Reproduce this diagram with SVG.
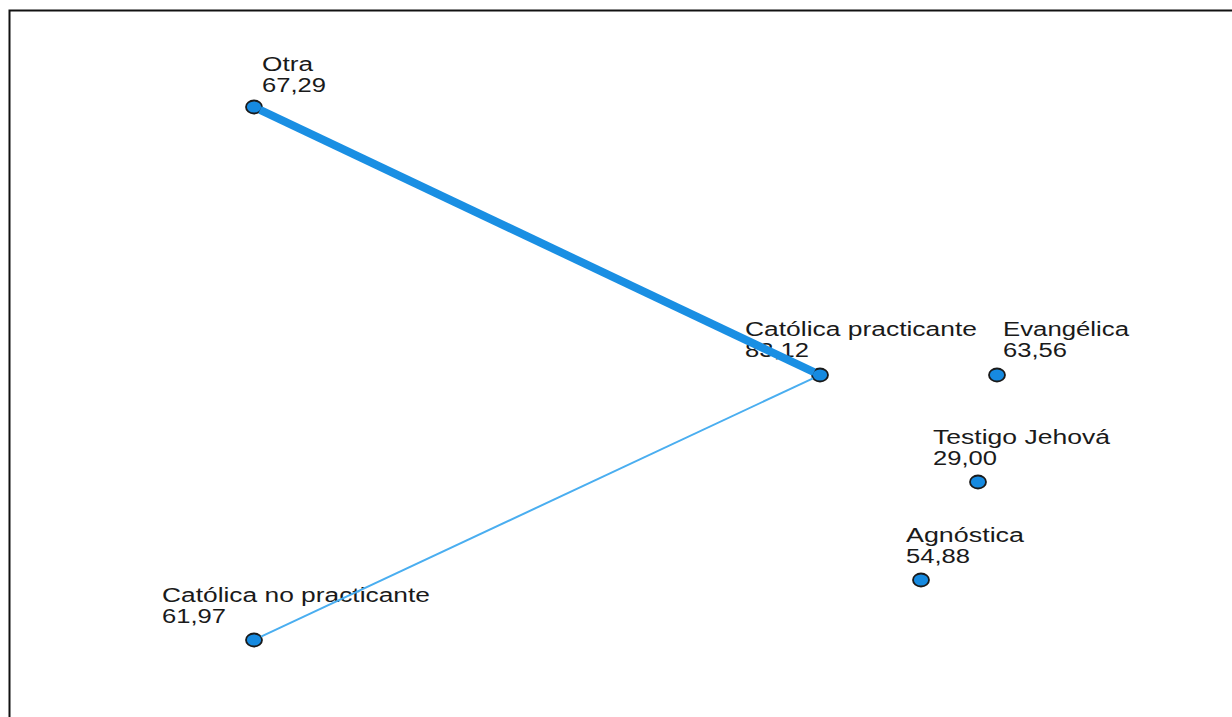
<svg xmlns="http://www.w3.org/2000/svg" width="1232" height="717" viewBox="0 0 1232 717">
<style>
.lbl{font-family:"Liberation Sans",Arial,sans-serif;font-size:19.5px;fill:#1a1a1a}
.dot{fill:#168ae0;stroke:#1a1a1a;stroke-width:1.8}
</style>
<rect width="1232" height="717" fill="#fff"/>
<path d="M9.5,717 V10.5 H1232" fill="none" stroke="#111" stroke-width="2"/>
<g id="n-otra">
<text class="lbl" x="262" y="71" textLength="51" lengthAdjust="spacingAndGlyphs">Otra</text>
<text class="lbl" x="262" y="92" textLength="64" lengthAdjust="spacingAndGlyphs">67,29</text>
<ellipse class="dot" cx="254" cy="107" rx="8" ry="6.5"/>
</g>
<g id="n-catolica-practicante">
<text class="lbl" x="745" y="336" textLength="232" lengthAdjust="spacingAndGlyphs">Católica practicante</text>
<text class="lbl" x="745" y="357" textLength="64" lengthAdjust="spacingAndGlyphs">83,12</text>
<ellipse class="dot" cx="820" cy="375" rx="8" ry="6.5"/>
</g>
<g id="n-evangelica">
<text class="lbl" x="1003" y="336" textLength="126" lengthAdjust="spacingAndGlyphs">Evangélica</text>
<text class="lbl" x="1003" y="357" textLength="64" lengthAdjust="spacingAndGlyphs">63,56</text>
<ellipse class="dot" cx="997" cy="375" rx="8" ry="6.5"/>
</g>
<g id="n-testigo">
<text class="lbl" x="933" y="444" textLength="177" lengthAdjust="spacingAndGlyphs">Testigo Jehová</text>
<text class="lbl" x="933" y="465" textLength="64" lengthAdjust="spacingAndGlyphs">29,00</text>
<ellipse class="dot" cx="978" cy="482" rx="8" ry="6.5"/>
</g>
<g id="n-agnostica">
<text class="lbl" x="906" y="542" textLength="118" lengthAdjust="spacingAndGlyphs">Agnóstica</text>
<text class="lbl" x="906" y="563" textLength="64" lengthAdjust="spacingAndGlyphs">54,88</text>
<ellipse class="dot" cx="921" cy="580" rx="8" ry="6.5"/>
</g>
<g id="n-catolica-no-practicante">
<text class="lbl" x="162" y="602" textLength="268" lengthAdjust="spacingAndGlyphs">Católica no practicante</text>
<text class="lbl" x="162" y="623" textLength="64" lengthAdjust="spacingAndGlyphs">61,97</text>
<ellipse class="dot" cx="254" cy="640" rx="8" ry="6.5"/>
</g>
<g id="connectors">
<line x1="260" y1="109.8" x2="814" y2="372.2" stroke="#1a8fe3" stroke-width="8"/>
<line x1="261" y1="636.7" x2="813" y2="378.3" stroke="#4aaef0" stroke-width="2"/>
</g>
</svg>
